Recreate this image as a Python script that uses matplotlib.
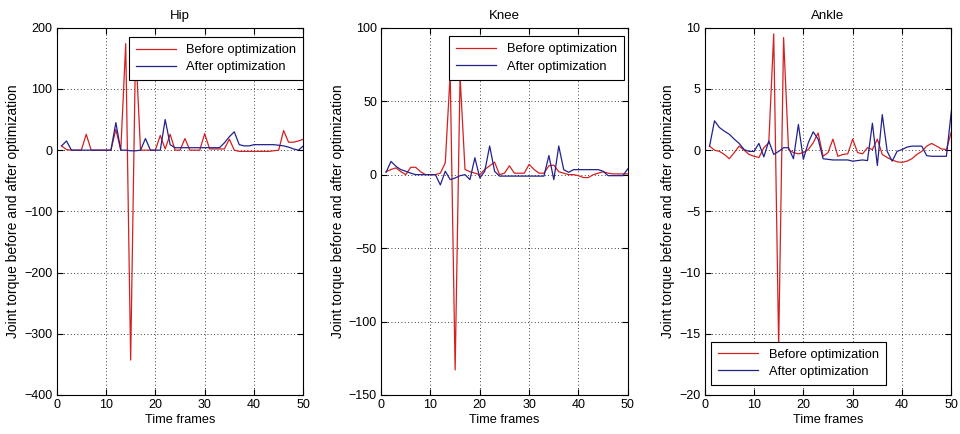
import numpy as np
import matplotlib
matplotlib.use("Agg")
import matplotlib.pyplot as plt

plt.rcParams['font.family'] = ['Liberation Sans', 'DejaVu Sans']
plt.rcParams['font.size'] = 9

frames = np.arange(1, 51)

# Hip
hip_before = [7, 1, 0, 0, 0, 26, 0, 0, 0, 0, 0, 34, 0, 174, -343, 170, 0, 0, 0, 0,
              24, 2, 26, 0, 0, 19, 0, 0, 0, 27, 2, 2, 2, 2, 18, 0, -2, -2, -2, -2,
              -2, -2, -2, -1, 0, 32, 13, 13, 15, 18]
hip_after = [7, 15, 0, 0, 0, 0, 0, 0, 0, 0, 0, 45, 0, 0, -1, -1, 0, 19, 0, 0,
             0, 50, 9, 4, 4, 4, 4, 4, 4, 4, 4, 4, 4, 12, 22, 30, 9, 7, 7, 9,
             9, 9, 9, 9, 8, 7, 5, 2, 0, 7]

# Knee
knee_before = [2, 3.5, 4.6, 2, 0, 5, 5, 2, 0, 0, 0, 1, 8, 69, -133, 67, 3.5, 2, 1, 0,
               3.5, 6, 8.5, 0, 1, 6, 1, 1, 1, 7, 3.5, 1, 1, 6, 6.5, 2, 1, 0, 0, -0.7,
               -2, -2, 0, 1, 2, 1, 0.5, 0.5, 0.5, 0.5]
knee_after = [1.6, 9, 5.7, 3.4, 2.3, 1, 0, 0, 0, 0, 0, -7, 2.3, -3.4, -2.3, -0.7, 0, -3.4, 11.5, -2.3,
              2.3, 19.5, 2.3, -1, -1, -1, -1, -1, -1, -1, -1, -1, -1, 13, -3.4, 19.5, 3.4, 1.6, 3.4, 3.4,
              3.4, 3.4, 3.4, 3.4, 2.3, -0.7, -0.7, -0.7, -0.7, 4]

# Ankle
ankle_before = [0.33, 0, -0.1, -0.35, -0.7, -0.2, 0.33, 0, -0.35, -0.5, -0.6, 0.2, 0.6, 9.5, -16, 9.2, 0.05, -0.2, -0.3, -0.2,
                0.05, 0.6, 1.4, -0.5, -0.2, 0.9, -0.5, -0.35, -0.3, 0.9, -0.2, -0.3, 0.2, 0.05, 0.9, -0.35, -0.6, -0.8, -0.95, -1.0,
                -0.9, -0.7, -0.35, -0.1, 0.33, 0.55, 0.33, 0.1, 0.05, 1.5]
ankle_after = [0.33, 2.4, 1.85, 1.55, 1.3, 0.9, 0.55, 0.05, -0.1, -0.1, 0.55, -0.55, 0.75, -0.35, -0.1, 0.2, 0.2, -0.7, 2.1, -0.75,
               0.6, 1.5, 0.9, -0.7, -0.75, -0.8, -0.8, -0.8, -0.8, -0.9, -0.85, -0.8, -0.85, 2.2, -1.25, 2.9, -0.1, -0.9, -0.1, 0.05,
               0.25, 0.33, 0.33, 0.33, -0.45, -0.5, -0.5, -0.5, -0.5, 3.2]

titles = ["Hip", "Knee", "Ankle"]
before = [hip_before, knee_before, ankle_before]
after = [hip_after, knee_after, ankle_after]
ylims = [(-400, 200), (-150, 100), (-20, 10)]
yticks = [np.arange(-400, 201, 100), np.arange(-150, 101, 50), np.arange(-20, 11, 5)]
legend_loc = ["upper right", "upper right", "lower left"]
legend_anchor = [(1.0, 0.975), (0.984, 0.977), (0.027, 0.027)]
lefts = [0.059, 0.397, 0.734]

fig = plt.figure(figsize=(9.6, 4.34), dpi=100)
for i in range(3):
    ax = fig.add_axes([lefts[i], 0.090, 0.257, 0.846])
    ax.plot(frames, before[i], color="#d42020", lw=0.9, label="Before optimization")
    ax.plot(frames, after[i], color="#22228f", lw=0.9, label="After optimization")
    ax.set_xlim(0, 50)
    ax.set_ylim(*ylims[i])
    ax.set_xticks(np.arange(0, 51, 10))
    ax.set_yticks(yticks[i])
    ax.grid(True, color="black", linestyle=(0, (1, 3)), linewidth=0.6)
    ax.tick_params(direction="in", top=True, right=True, length=4, pad=3, labelsize=9)
    ax.set_title(titles[i], fontsize=9.5, pad=6)
    ax.set_xlabel("Time frames", fontsize=9.2, labelpad=2)
    ax.set_ylabel("Joint torque before and after optimization", fontsize=10, labelpad=3)
    leg = ax.legend(loc=legend_loc[i], bbox_to_anchor=legend_anchor[i], fancybox=False,
                    framealpha=1, edgecolor="black", fontsize=9.3, handlelength=3.1,
                    borderaxespad=0, borderpad=0.55, labelspacing=0.4)
    leg.get_frame().set_linewidth(0.8)

fig.savefig("out.png", dpi=100)
